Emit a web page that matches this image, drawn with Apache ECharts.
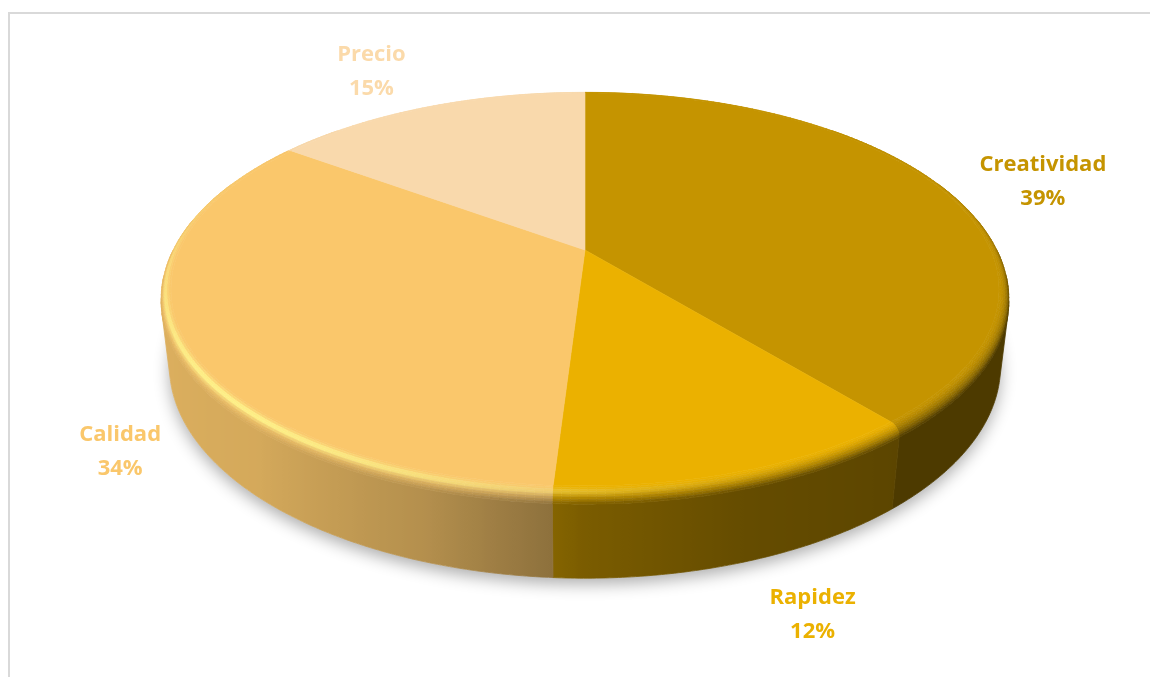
<!DOCTYPE html>
<html>
<head>
<meta charset="utf-8">
<script src="https://cdn.jsdelivr.net/npm/echarts@6/dist/echarts.min.js"></script>
<style>
  html, body { margin: 0; padding: 0; background: #ffffff; }
  #chart { width: 1150px; height: 677px; }
</style>
</head>
<body>
<div id="chart"></div>
<script>
// Slice data (clockwise from the back of the disc)
const categories = ['Creatividad', 'Rapidez', 'Calidad', 'Precio'];
const shares = [39, 12, 34, 15];
const sliceColors = ['#C59400', '#EBB100', '#FAC76B', '#F9D9AC'];
const labelColors = ['#C59400', '#EBB100', '#FAC76B', '#FBDAAA'];

// Camera / disc geometry (perspective view of a cylinder)
const CX = 585, CY = 250, FOCAL = 1789, DIST = 1;
const ELEV = 27.7 * Math.PI / 180;
const SA = Math.sin(ELEV), CA = Math.cos(ELEV);
const RAD = 0.2325, THICK = 0.047, BEVEL = 0.025 * RAD;
const CAM = [0, DIST * SA, DIST * CA];

// Label offsets (px) from the outer rim point at each slice's mid angle
const labelNudge = [[92, -7], [72, 52], [-62, 34], [-54, -33]];

// Side-wall brightness by angle (degrees, clockwise from back)
const wallLight = [[0, 0.85], [50, 0.62], [100, 0.39], [140, 0.39], [162, 0.43], [180, 0.52],
  [184, 0.57], [198, 0.72], [222, 0.85], [260, 0.89], [310, 0.9], [360, 0.85]];

function project(p) {
  const d = DIST - p[1] * SA - p[2] * CA;
  return [CX + FOCAL * p[0] / d, CY - FOCAL * (p[1] * CA - p[2] * SA) / d];
}
function rimPoint(t, rho, y) { return [rho * Math.sin(t), y, -rho * Math.cos(t)]; }
function facing(p, n) {
  return (CAM[0] - p[0]) * n[0] + (CAM[1] - p[1]) * n[1] + (CAM[2] - p[2]) * n[2] > 0;
}
function lightAt(t) {
  let deg = t * 180 / Math.PI; deg = ((deg % 360) + 360) % 360;
  for (let k = 1; k < wallLight.length; k++) {
    if (deg <= wallLight[k][0]) {
      const [d0, v0] = wallLight[k - 1], [d1, v1] = wallLight[k];
      return v0 + (v1 - v0) * (deg - d0) / (d1 - d0);
    }
  }
  return wallLight[wallLight.length - 1][1];
}
function specAt(t) {
  const c = Math.cos(t - 228 * Math.PI / 180);
  return c > 0 ? 0.45 * c * c * c : 0;
}
function hexToRgb(h) {
  const n = parseInt(h.slice(1), 16);
  return [(n >> 16) & 255, (n >> 8) & 255, n & 255];
}
function rgbStr(c) {
  return 'rgb(' + c.map(v => Math.max(0, Math.min(255, Math.round(v)))).join(',') + ')';
}
const HILITE = [255, 248, 140];

function bevelPoint(t, f) {
  return rimPoint(t, RAD - BEVEL + BEVEL * Math.sin(f), -BEVEL + BEVEL * Math.cos(f));
}
function wallVisible(t) {
  return facing(rimPoint(t, RAD, -THICK / 2), [Math.sin(t), 0, -Math.cos(t)]);
}

const total = shares.reduce((a, b) => a + b, 0);

function renderSlice(params, api) {
  const i = params.dataIndex;
  let before = 0;
  for (let k = 0; k < i; k++) before += shares[k];
  const a0 = before / total * 2 * Math.PI;
  const a1 = (before + api.value(0)) / total * 2 * Math.PI;
  const baseHex = sliceColors[i];
  const base = hexToRgb(baseHex);
  const children = [];
  const nSeg = Math.max(2, Math.ceil((a1 - a0) / (Math.PI / 180)));

  // top face
  const top = [project([0, 0, 0])];
  for (let s = 0; s <= nSeg; s++) {
    const t = a0 + (a1 - a0) * s / nSeg;
    top.push(project(rimPoint(t, RAD - BEVEL, 0)));
  }
  children.push({ type: 'polygon', shape: { points: top },
    style: { fill: baseHex, stroke: baseHex, lineWidth: 0.6 }, z2: 5 });

  // rounded top edge
  const M = 8;
  for (let s = 0; s < nSeg; s++) {
    const t0 = a0 + (a1 - a0) * s / nSeg, t1 = a0 + (a1 - a0) * (s + 1) / nSeg;
    const tm = (t0 + t1) / 2;
    const wl = lightAt(tm), sp = specAt(tm);
    for (let j = 0; j < M; j++) {
      const f0 = j / M * Math.PI / 2, f1 = (j + 1) / M * Math.PI / 2, fm = (f0 + f1) / 2;
      const pm = bevelPoint(tm, fm);
      const nm = [Math.sin(fm) * Math.sin(tm), Math.cos(fm), -Math.sin(fm) * Math.cos(tm)];
      if (!facing(pm, nm)) continue;
      const k = 1 + (wl - 1) * (1 - Math.cos(fm));
      let c = base.map(v => v * k);
      const h = Math.min(1, 2 * sp * Math.exp(-Math.pow((fm - 0.6) / 0.3, 2)));
      c = c.map((v, q) => v + (HILITE[q] - v) * h);
      const col = rgbStr(c);
      children.push({ type: 'polygon',
        shape: { points: [project(bevelPoint(t0, f0)), project(bevelPoint(t1, f0)),
                          project(bevelPoint(t1, f1)), project(bevelPoint(t0, f1))] },
        style: { fill: col, stroke: col, lineWidth: 0.6 }, z2: 4 });
    }
  }

  // outer side wall: one shape per slice, shaded with a horizontal gradient
  const vis = [];
  const nFine = nSeg * 2;
  for (let s = 0; s <= nFine; s++) {
    const t = a0 + (a1 - a0) * s / nFine;
    if (wallVisible(t)) vis.push(t);
  }
  if (vis.length > 1) {
    const upper = vis.map(t => project(rimPoint(t, RAD, -BEVEL)));
    const lower = vis.map(t => project(rimPoint(t, RAD, -THICK))).reverse();
    const xs = upper.map(p => p[0]);
    const xMin = Math.min.apply(null, xs), xMax = Math.max.apply(null, xs);
    const span = Math.max(1, xMax - xMin);
    const stops = vis.map((t, q) => ({
      offset: (xs[q] - xMin) / span,
      color: rgbStr(base.map(v => v * lightAt(t)))
    })).sort((p, q) => p.offset - q.offset);
    const grad = { type: 'linear', x: xMin, y: 0, x2: xMin + span, y2: 0,
      colorStops: stops, global: true };
    children.push({ type: 'polygon', shape: { points: upper.concat(lower) },
      style: { fill: grad, stroke: grad, lineWidth: 0.8 }, z2: 3 });
  }

  // label outside the slice
  const tm = (a0 + a1) / 2;
  const u = [Math.sin(tm), -Math.cos(tm)];
  const pTop = project(rimPoint(tm, RAD, 0));
  const pBot = project(rimPoint(tm, RAD, -THICK));
  const anchor = (pTop[0] * u[0] + pTop[1] * u[1]) >= (pBot[0] * u[0] + pBot[1] * u[1]) ? pTop : pBot;
  const pct = Math.round(api.value(0) / total * 100) + '%';
  children.push({ type: 'text', x: anchor[0] + labelNudge[i][0], y: anchor[1] + labelNudge[i][1],
    style: { text: categories[i] + '\n' + pct, fill: labelColors[i],
      font: 'bold 22px "Open Sans"', align: 'center', verticalAlign: 'middle', lineHeight: 34 }, z2: 10 });

  return { type: 'group', children: children };
}

function renderShadow() {
  const pts = [];
  for (let s = 0; s < 240; s++) {
    pts.push(project(rimPoint(s / 240 * 2 * Math.PI, RAD, -THICK)));
  }
  return { type: 'polygon', shape: { points: pts },
    style: { fill: '#ffffff', shadowBlur: 16, shadowColor: 'rgba(0,0,0,0.32)', shadowOffsetY: 6 } };
}

const chart = echarts.init(document.getElementById('chart'), null, { renderer: 'canvas' });
chart.setOption({
  animation: false,
  backgroundColor: '#ffffff',
  graphic: [{ type: 'rect', shape: { x: 9, y: 13, width: 1200, height: 700 },
    style: { fill: 'none', stroke: '#D9D9D9', lineWidth: 2 }, silent: true }],
  series: [
    { type: 'custom', coordinateSystem: 'none', silent: true, z: 1,
      data: [[0]], renderItem: renderShadow },
    { type: 'custom', coordinateSystem: 'none', silent: true, z: 2,
      data: shares.map((v, i) => ({ name: categories[i], value: v })), renderItem: renderSlice }
  ]
});
</script>
</body>
</html>
